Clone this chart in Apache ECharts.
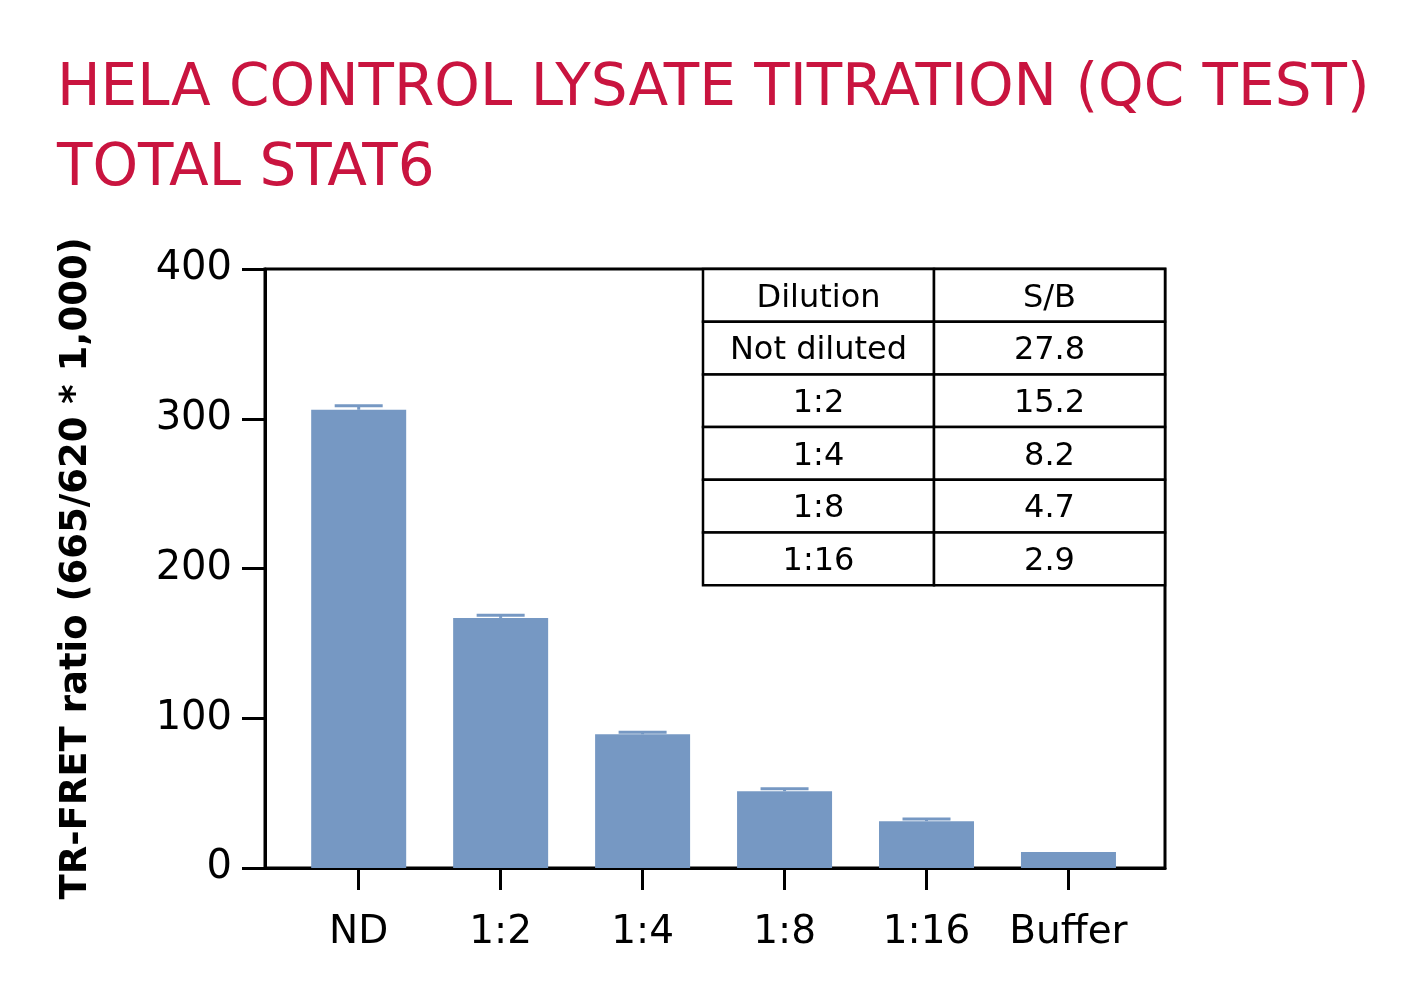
<!DOCTYPE html>
<html>
<head>
<meta charset="utf-8">
<title>HeLa control lysate titration - Total STAT6</title>
<script src="https://cdn.jsdelivr.net/npm/echarts@6/dist/echarts.min.js"></script>
<style>
  html, body { margin: 0; padding: 0; background: #fff; }
  #chart { width: 1421px; height: 985px; }
</style>
</head>
<body>
<div id="chart"></div>
<script>
const categories = ["ND", "1:2", "1:4", "1:8", "1:16", "Buffer"];
const ratioValues = [306, 167, 89.3, 51.3, 31.3, 10.7];
const ratioErrors = [2.7, 1.7, 1.4, 1.6, 1.4, 0];

const tableHeader = ["Dilution", "S/B"];
const dilutions = ["Not diluted", "1:2", "1:4", "1:8", "1:16"];
const sbValues = ["27.8", "15.2", "8.2", "4.7", "2.9"];

const font = "'DejaVu Sans', sans-serif";
const barColor = "#7698c3";
const red = "#c9143f";

let chart = echarts.init(document.getElementById("chart"), null, { renderer: "canvas" });

// table drawn as graphic cells, laid out in the upper right of the plot
function buildTable() {
  const x0 = 703, y0 = 269, colW = 231, rowH = 52.7;
  const rows = [tableHeader].concat(dilutions.map((d, i) => [d, sbValues[i]]));
  const els = [];
  rows.forEach((row, r) => {
    row.forEach((txt, c) => {
      els.push({
        type: "rect",
        shape: { x: x0 + c * colW, y: y0 + r * rowH, width: colW, height: rowH },
        style: { fill: "#fff", stroke: "#000", lineWidth: 2.5 },
        z: 10
      });
      els.push({
        type: "text",
        x: x0 + c * colW + colW / 2,
        y: y0 + r * rowH + rowH / 2 + 3,
        style: { text: txt, font: "32px " + font, fill: "#000", align: "center", verticalAlign: "middle" },
        z: 11
      });
    });
  });
  return els;
}

function renderError(params, api) {
  const x = api.value(0), v = api.value(1), e = api.value(2);
  const children = [];
  if (e > 0) {
    const base = api.coord([x, v]);
    const top = api.coord([x, v + e]);
    const st = { stroke: barColor, lineWidth: 3, fill: null };
    children.push({ type: "line", shape: { x1: base[0], y1: base[1], x2: top[0], y2: top[1] }, style: st });
    children.push({ type: "line", shape: { x1: top[0] - 24, y1: top[1], x2: top[0] + 24, y2: top[1] }, style: st });
  }
  return { type: "group", children: children };
}

const option = {
  backgroundColor: "#fff",
  animation: false,
  title: {
    text: "HELA CONTROL LYSATE TITRATION (QC TEST)\nTOTAL STAT6",
    left: 52,
    top: 45,
    textStyle: { color: red, fontFamily: font, fontWeight: "normal", fontSize: 58, lineHeight: 80 }
  },
  grid: {
    left: 265, right: 256, top: 269, bottom: 117,
    show: true, borderColor: "#000", borderWidth: 3
  },
  xAxis: {
    type: "value",
    min: -0.66,
    max: 5.68,
    splitLine: { show: false },
    axisLine: { show: true, onZero: false, lineStyle: { color: "#000", width: 3 } },
    axisTick: { show: true, length: 22, lineStyle: { color: "#000", width: 3 }, customValues: categories.map((c, i) => i) },
    axisLabel: {
      customValues: categories.map((c, i) => i),
      formatter: (v) => categories[Math.round(v)],
      fontFamily: font, fontSize: 39, color: "#000", margin: 45
    }
  },
  yAxis: {
    type: "value",
    min: 0,
    max: 400,
    interval: 100,
    name: "TR-FRET ratio (665/620 * 1,000)",
    nameLocation: "middle",
    nameGap: 170,
    nameTextStyle: { fontFamily: font, fontWeight: "bold", fontSize: 37, color: "#000" },
    splitLine: { show: false },
    axisLine: { show: true, onZero: false, lineStyle: { color: "#000", width: 3 } },
    axisTick: { show: true, length: 23, lineStyle: { color: "#000", width: 3 } },
    axisLabel: { fontFamily: font, fontSize: 40, color: "#000", margin: 33, padding: [12, 0, 0, 0] }
  },
  series: [
    {
      type: "bar",
      data: ratioValues.map((v, i) => [i, v]),
      barWidth: 95,
      itemStyle: { color: barColor }
    },
    {
      type: "custom",
      data: ratioValues.map((v, i) => [i, v, ratioErrors[i]]),
      encode: { x: 0, y: 1 },
      renderItem: renderError,
      z: 3
    }
  ],
  graphic: buildTable()
};

chart.setOption(option);
window.addEventListener("resize", () => chart.resize());
</script>
</body>
</html>
